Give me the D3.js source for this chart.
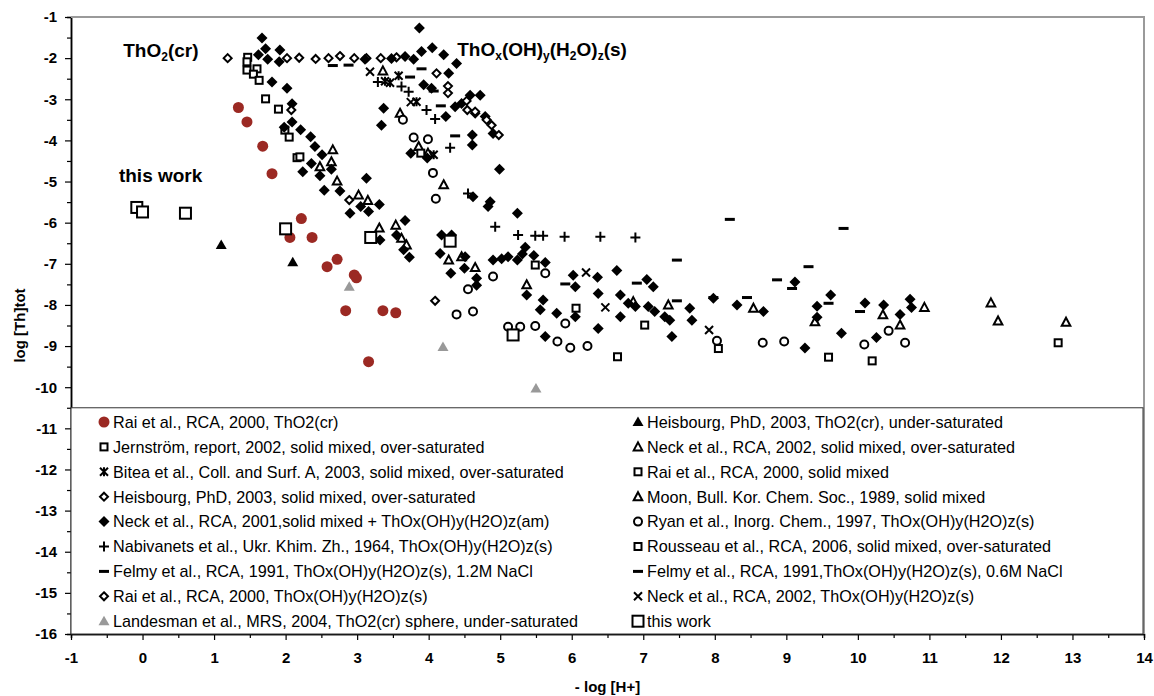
<!DOCTYPE html>
<html>
<head>
<meta charset="utf-8">
<script src="https://cdn.jsdelivr.net/npm/d3@7"></script>
<style>
  body { margin: 0; background: #fff; }
  svg text { font-family: "Liberation Sans", Arial, sans-serif; }
</style>
</head>
<body>
<svg id="chart" width="1154" height="696"></svg>
<script>
// ---- data: [-log[H+], log[Th]tot] pairs ----
const raiThO2cr = [[1.34,-3.2],[1.46,-3.55],[1.68,-4.14],[1.81,-4.81],[2.22,-5.9],[2.06,-6.36],[2.37,-6.36],[2.58,-7.07],[2.72,-6.89],[2.96,-7.27],[2.99,-7.34],[2.84,-8.14],[3.36,-8.14],[3.54,-8.19],[3.16,-9.38]];
const heisbourgUnder = [[1.1,-6.54],[2.1,-6.96]];
const jernstrom = [[1.47,-1.98],[1.46,-2.09],[1.46,-2.29],[1.6,-2.26],[1.55,-2.39],[1.63,-2.54],[1.72,-2.99],[1.9,-3.24],[1.99,-3.75],[2.05,-3.92],[2.16,-4.42],[2.2,-4.4]];
const neck2002Solid = [[3.36,-2.31],[2.66,-4.23],[2.48,-4.64],[2.64,-4.52],[2.72,-4.99],[3.02,-5.33],[3.15,-5.46],[3.31,-6.13],[3.54,-6.06],[3.62,-6.38],[3.69,-6.54],[3.6,-3.34],[3.86,-4.15],[3.99,-4.31],[4.21,-5.08],[4.28,-6.91],[4.46,-6.83],[4.65,-7.09],[5.37,-7.51]];
const bitea = [[3.58,-2.43],[3.46,-2.6],[3.39,-2.56],[3.83,-3.06],[4.07,-4.35]];
const raiSolidMixed = [[3.89,-4.31],[5.49,-7.03],[6.06,-8.08],[6.64,-9.26]];
const heisbourgOver = [[1.19,-2.0],[2.02,-2.0],[2.19,-1.99],[2.42,-2.02],[2.6,-2.0],[2.76,-1.95],[2.96,-2.0],[3.13,-2.0],[3.33,-2.0],[3.55,-1.98]];
const moon = [[6.86,-7.92],[7.35,-8.0],[8.54,-8.08],[9.4,-8.41],[10.35,-8.24],[10.59,-8.49],[10.93,-8.06],[11.86,-7.95],[11.96,-8.39],[12.91,-8.42]];
const neck2001 = [[1.67,-1.51],[1.72,-1.77],[1.92,-1.8],[1.62,-1.92],[1.75,-2.03],[1.91,-2.09],[1.81,-2.58],[2.02,-2.73],[2.09,-3.11],[2.09,-3.55],[1.98,-3.68],[2.21,-3.74],[2.35,-3.91],[2.41,-4.15],[2.51,-4.35],[2.36,-4.56],[2.24,-4.76],[2.48,-4.86],[2.64,-4.7],[2.54,-5.21],[2.76,-5.23],[3.13,-4.92],[2.9,-5.77],[3.05,-5.61],[3.16,-5.73],[3.31,-5.56],[3.67,-5.95],[3.32,-6.42],[3.55,-6.3],[3.65,-6.66],[3.73,-6.84],[3.75,-4.31],[3.98,-4.43],[3.37,-3.22],[3.34,-3.63],[3.11,-2.03],[3.48,-2.01],[3.87,-1.27],[3.67,-1.96],[3.79,-2.03],[3.9,-1.84],[4.05,-1.75],[4.21,-1.92],[4.39,-2.13],[4.28,-2.37],[3.93,-2.65],[4.04,-2.73],[4.58,-2.9],[4.72,-2.9],[4.46,-3.1],[4.37,-3.18],[4.65,-3.34],[4.79,-3.42],[4.9,-3.83],[4.24,-3.42],[4.61,-3.87],[4.61,-4.11],[4.99,-4.7],[4.62,-5.37],[4.86,-5.49],[4.83,-5.61],[5.24,-5.77],[4.32,-6.3],[4.18,-6.3],[4.16,-6.75],[4.51,-6.83],[4.5,-7.11],[4.31,-7.23],[4.67,-7.35],[4.67,-7.52],[4.9,-6.91],[5.02,-6.88],[5.11,-6.83],[5.24,-6.91],[5.31,-6.76],[5.35,-6.6],[5.47,-6.8],[5.63,-6.97],[5.37,-7.76],[5.6,-7.88],[5.56,-8.12],[5.79,-8.2],[6.05,-8.29],[5.63,-8.77],[6.02,-7.28],[6.05,-7.56],[6.36,-7.33],[6.63,-7.16],[6.37,-7.72],[6.68,-7.76],[6.79,-7.96],[6.89,-8.04],[7.05,-7.38],[7.14,-7.56],[6.37,-8.57],[6.68,-8.29],[7.07,-8.04],[7.16,-8.16],[7.3,-8.29],[7.37,-8.37],[7.4,-8.77],[7.65,-8.08],[7.68,-8.37],[7.98,-7.84],[8.31,-8.0],[8.68,-8.16],[9.12,-7.44],[9.26,-9.05],[9.43,-8.03],[9.43,-8.3],[9.62,-7.76],[9.77,-8.69],[10.1,-7.95],[10.26,-8.79],[10.36,-8.0],[10.59,-8.23],[10.73,-7.86],[10.75,-8.06]];
const ryan = [[3.64,-3.5],[3.79,-3.93],[3.99,-3.97],[4.06,-4.79],[4.1,-5.42],[4.9,-7.31],[4.55,-7.62],[4.39,-8.23],[4.62,-8.16],[5.11,-8.53],[5.28,-8.53],[5.49,-8.51],[5.63,-7.23],[5.91,-8.45],[5.8,-8.89],[5.98,-9.04],[6.22,-9.0],[8.03,-8.87],[8.67,-8.92],[8.97,-8.89],[10.09,-8.96],[10.43,-8.63],[10.66,-8.92]];
const nabivanets = [[3.29,-2.58],[3.62,-2.69],[3.72,-2.82],[3.97,-3.26],[4.09,-3.48],[4.3,-4.18],[4.55,-5.29],[4.93,-6.1],[5.25,-6.3],[5.49,-6.32],[5.6,-6.32],[5.9,-6.34],[6.4,-6.34],[6.89,-6.36]];
const rousseau = [[7.02,-8.49],[8.05,-9.06],[9.59,-9.27],[10.2,-9.36],[12.8,-8.92]];
const felmy12 = [[2.66,-2.18],[2.88,-2.17],[3.74,-2.46],[3.9,-2.26],[4.07,-2.8],[4.17,-3.16],[4.37,-3.89],[5.91,-7.49],[6.91,-7.47],[7.47,-6.91]];
const felmy06 = [[7.47,-7.9],[7.98,-7.82],[8.21,-5.92],[8.45,-7.82],[8.87,-7.39],[9.08,-7.6],[9.31,-7.07],[9.59,-7.96],[9.8,-6.14],[10.03,-8.16]];
const raiThOx = [[2.08,-3.26],[2.89,-5.45],[4.09,-7.9],[4.11,-2.37],[4.27,-2.68],[4.27,-2.85],[4.53,-3.04],[4.54,-3.26],[4.65,-3.3],[4.81,-3.5],[4.88,-3.63],[4.98,-3.87]];
const neckThOx = [[3.18,-2.33],[3.75,-3.07],[6.2,-7.21],[6.47,-8.06],[7.92,-8.61]];
const landesman = [[2.89,-7.56],[4.2,-9.02],[5.5,-10.03]];
const thisWork = [[-0.08,-5.63],[0.0,-5.74],[0.6,-5.77],[2.0,-6.15],[3.19,-6.36],[4.3,-6.45],[5.18,-8.73]];

const xTicks = d3.range(-1, 15, 1);
const yTicks = d3.range(-16, 0, 1);

// series, in drawing order; col/row give the legend slot
const series = [
  {name: "Rai et al., RCA, 2000, ThO2(cr)", data: raiThO2cr, shape: "circle", color: "#9b2923", col: 0, row: 0},
  {name: "Heisbourg, PhD, 2003, ThO2(cr), under-saturated", data: heisbourgUnder, shape: "triangle", color: "#000", col: 1, row: 0},
  {name: "Jernström, report, 2002, solid mixed, over-saturated", data: jernstrom, shape: "square", col: 0, row: 1},
  {name: "Neck et al., RCA, 2002, solid mixed, over-saturated", data: neck2002Solid, shape: "otriangle", col: 1, row: 1},
  {name: "Bitea et al., Coll. and Surf. A, 2003, solid mixed, over-saturated", data: bitea, shape: "star", col: 0, row: 2},
  {name: "Rai et al., RCA, 2000, solid mixed", data: raiSolidMixed, shape: "square", col: 1, row: 2},
  {name: "Heisbourg, PhD, 2003, solid mixed, over-saturated", data: heisbourgOver, shape: "odiamond", col: 0, row: 3},
  {name: "Moon, Bull. Kor. Chem. Soc., 1989, solid mixed", data: moon, shape: "otriangle", col: 1, row: 3},
  {name: "Neck et al., RCA, 2001,solid mixed + ThOx(OH)y(H2O)z(am)", data: neck2001, shape: "diamond", col: 0, row: 4},
  {name: "Ryan et al., Inorg. Chem., 1997, ThOx(OH)y(H2O)z(s)", data: ryan, shape: "ocircle", col: 1, row: 4},
  {name: "Nabivanets et al., Ukr. Khim. Zh., 1964, ThOx(OH)y(H2O)z(s)", data: nabivanets, shape: "plus", col: 0, row: 5},
  {name: "Rousseau et al., RCA, 2006, solid mixed, over-saturated", data: rousseau, shape: "square", col: 1, row: 5},
  {name: "Felmy et al., RCA, 1991, ThOx(OH)y(H2O)z(s), 1.2M NaCl", data: felmy12, shape: "dash", col: 0, row: 6},
  {name: "Felmy et al., RCA, 1991,ThOx(OH)y(H2O)z(s), 0.6M NaCl", data: felmy06, shape: "dash", col: 1, row: 6},
  {name: "Rai et al., RCA, 2000, ThOx(OH)y(H2O)z(s)", data: raiThOx, shape: "odiamond", col: 0, row: 7},
  {name: "Neck et al., RCA, 2002, ThOx(OH)y(H2O)z(s)", data: neckThOx, shape: "x", col: 1, row: 7},
  {name: "Landesman et al., MRS, 2004, ThO2(cr) sphere, under-saturated", data: landesman, shape: "triangle", color: "#999", col: 0, row: 8},
  {name: "this work", data: thisWork, shape: "bigsquare", col: 1, row: 8}
];

const svg = d3.select("#chart");
const plotL = 71, plotR = 1144, plotT = 17, plotB = 634;

const x = d3.scaleLinear().domain([-1, 14]).range([plotL, plotR]);
const y = d3.scaleLinear().domain([-16, -1]).range([plotB, plotT]);

// draws one marker into a group centred on 0,0
function marker(g, s) {
  const black = "#000";
  switch (s.shape) {
    case "circle":
      g.append("circle").attr("r", 5.5).attr("fill", s.color);
      break;
    case "ocircle":
      g.append("circle").attr("r", 4).attr("fill", "#fff").attr("stroke", black).attr("stroke-width", 2);
      break;
    case "square":
      g.append("rect").attr("x", -3.5).attr("y", -3.5).attr("width", 7).attr("height", 7)
        .attr("fill", "#fff").attr("stroke", black).attr("stroke-width", 2);
      break;
    case "bigsquare":
      g.append("rect").attr("x", -5.5).attr("y", -5.5).attr("width", 11).attr("height", 11)
        .attr("fill", "#fff").attr("stroke", black).attr("stroke-width", 2);
      break;
    case "diamond":
      g.append("path").attr("d", "M0,-5.5L5.5,0L0,5.5L-5.5,0Z").attr("fill", black);
      break;
    case "odiamond":
      g.append("path").attr("d", "M0,-4L4,0L0,4L-4,0Z").attr("fill", "#fff").attr("stroke", black).attr("stroke-width", 2);
      break;
    case "triangle":
      g.append("path").attr("d", "M0,-5.5L5.5,4L-5.5,4Z").attr("fill", s.color);
      break;
    case "otriangle":
      g.append("path").attr("d", "M0,-4.5L4.3,3.5L-4.3,3.5Z").attr("fill", "#fff").attr("stroke", black).attr("stroke-width", 2);
      break;
    case "plus":
      g.append("path").attr("d", "M-5,0H5M0,-5V5").attr("stroke", black).attr("stroke-width", 2);
      break;
    case "dash":
      g.append("rect").attr("x", -5).attr("y", -1.5).attr("width", 10).attr("height", 3).attr("fill", black);
      break;
    case "x":
      g.append("path").attr("d", "M-4,-4L4,4M4,-4L-4,4").attr("stroke", black).attr("stroke-width", 2);
      break;
    case "star":
      g.append("path").attr("d", "M-4,-4L4,4M4,-4L-4,4M0,-4.5V4.5").attr("stroke", black).attr("stroke-width", 2);
      break;
  }
}

// ---- axes ----
const yAxis = svg.append("g").attr("transform", `translate(${plotL},0)`)
  .call(d3.axisLeft(y).tickValues(yTicks).tickSize(6).tickSizeOuter(0).tickPadding(8).tickFormat(d => String(d)));
const yMinor = svg.append("g").attr("transform", `translate(${plotL},0)`)
  .call(d3.axisLeft(y).tickValues(yTicks.slice(0, -1).map(d => d + 0.5)).tickSize(4).tickFormat(""));
const xAxis = svg.append("g").attr("transform", `translate(0,${plotB})`)
  .call(d3.axisBottom(x).tickValues(xTicks).tickSize(6).tickSizeOuter(0).tickPadding(12).tickFormat(d => String(d)));
const xMinor = svg.append("g").attr("transform", `translate(0,${plotB})`)
  .call(d3.axisBottom(x).tickValues(xTicks.slice(0, -1).map(d => d + 0.5)).tickSize(4).tickFormat(""));

[yAxis, yMinor, xAxis, xMinor].forEach(a => {
  a.selectAll("path.domain").attr("stroke", "#000").attr("stroke-width", 1.5);
  a.selectAll(".tick line").attr("stroke", "#000").attr("stroke-width", 1.2);
  a.selectAll(".tick text").attr("font-size", 15).attr("font-weight", "bold").attr("fill", "#000")
    .attr("font-family", "'Liberation Sans', Arial, sans-serif");
});

// grey frame on top and right
svg.append("path")
  .attr("d", `M${plotL},${plotT}H${plotR}V${plotB}`)
  .attr("fill", "none").attr("stroke", "#9a9a9a").attr("stroke-width", 2);

// axis titles
svg.append("text")
  .attr("transform", `translate(20,${(plotT + plotB) / 2}) rotate(-90)`)
  .attr("text-anchor", "middle").attr("dy", "0.35em")
  .attr("font-size", 15).attr("font-weight", "bold")
  .text("log [Th]tot");
svg.append("text")
  .attr("x", (plotL + plotR) / 2).attr("y", 692)
  .attr("text-anchor", "middle")
  .attr("font-size", 15).attr("font-weight", "bold")
  .text("- log [H+]");

// ---- points ----
const plot = svg.append("g");
series.forEach(s => {
  plot.append("g").selectAll("g")
    .data(s.data)
    .join("g")
    .attr("transform", d => `translate(${x(d[0])},${y(d[1])})`)
    .each(function() { marker(d3.select(this), s); });
});

// ---- annotations ----
const ann = svg.append("g").attr("font-size", 19).attr("font-weight", "bold");
const t1 = ann.append("text").attr("x", x(-0.27)).attr("y", y(-1.97));
t1.append("tspan").text("ThO");
t1.append("tspan").attr("font-size", 12).attr("dy", 4).text("2");
t1.append("tspan").attr("dy", -4).text("(cr)");

const t2 = ann.append("text").attr("x", x(4.4)).attr("y", y(-1.95));
[["ThO", 0], ["x", 1], ["(OH)", -1], ["y", 1], ["(H", -1], ["2", 1], ["O)", -1], ["z", 1], ["(s)", -1]]
  .forEach(([str, sub]) => {
    t2.append("tspan")
      .attr("font-size", sub === 1 ? 12 : 19)
      .attr("dy", sub === 1 ? 4 : (sub === -1 ? -4 : 0))
      .text(str);
  });

ann.append("text").attr("x", x(-0.33)).attr("y", y(-5.01)).text("this work");

// ---- legend ----
const legTop = y(-10.5);
const legend = svg.append("g");
legend.append("rect")
  .attr("x", plotL).attr("y", legTop)
  .attr("width", plotR - plotL - 1).attr("height", plotB - legTop)
  .attr("fill", "#fff").attr("stroke", "#333").attr("stroke-width", 1);

const colX = [104, 638];
const rowY0 = 422, rowStep = 24.9;
const items = legend.selectAll("g.item")
  .data(series)
  .join("g")
  .attr("class", "item")
  .attr("transform", d => `translate(${colX[d.col]},${rowY0 + d.row * rowStep})`);
items.each(function(s) { marker(d3.select(this), s); });
items.append("text")
  .attr("x", 9).attr("dy", "0.36em")
  .attr("font-size", 16.2)
  .text(d => d.name);
</script>
</body>
</html>
